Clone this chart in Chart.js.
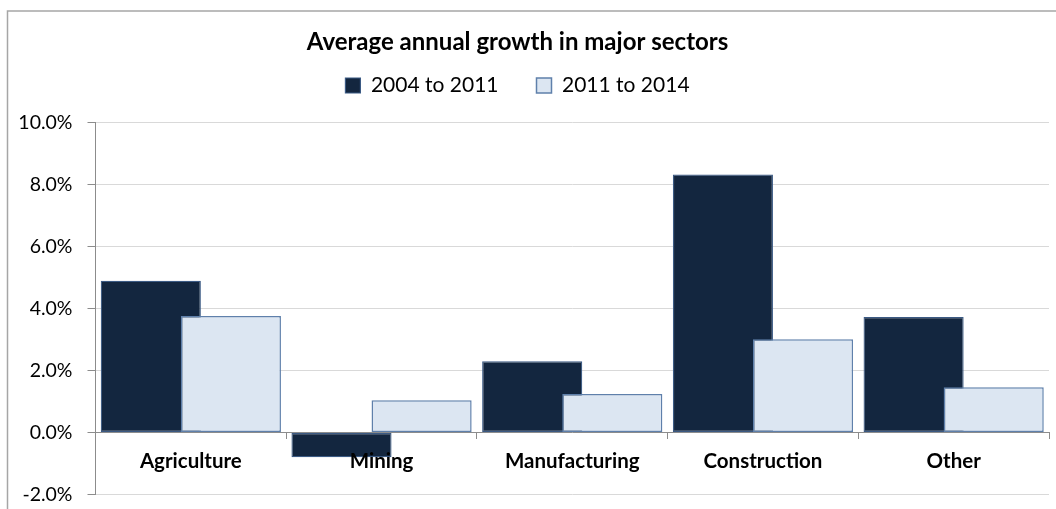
<!DOCTYPE html>
<html>
<head>
<meta charset="utf-8">
<script src="https://cdn.jsdelivr.net/npm/chart.js@4.4.1/dist/chart.umd.min.js"></script>
<style>
  html, body { margin: 0; padding: 0; background: #ffffff; overflow: hidden; }
  #wrap { position: absolute; left: -14px; top: 0; width: 1070px; height: 509px; }
</style>
</head>
<body>
<div id="wrap"><canvas id="c"></canvas></div>
<script>
const chartTitle = 'Average annual growth in major sectors';
const categories = ['Agriculture', 'Mining', 'Manufacturing', 'Construction', 'Other'];
const seriesNames = ['2004 to 2011', '2011 to 2014'];
const growth2004to2011 = [4.90, -0.80, 2.30, 8.33, 3.73];
const growth2011to2014 = [3.76, 1.04, 1.24, 3.01, 1.46];
const yMin = -2, yMax = 10, yStep = 2;

const FONT = 'Lato, "Open Sans", "DejaVu Sans", sans-serif';

const framePlugin = {
  id: 'frame',
  beforeDraw(chart) {
    const ctx = chart.ctx;
    ctx.save();
    ctx.fillStyle = '#ffffff';
    ctx.fillRect(0, 0, chart.width, chart.height);
    ctx.strokeStyle = '#a6a6a6';
    ctx.lineWidth = 1.5;
    ctx.strokeRect(21.5, 11, chart.width + 20, chart.height + 40);
    ctx.restore();
  }
};

const legendGapPlugin = {
  id: 'legendGap',
  beforeLayout(chart) {
    const lg = chart.legend;
    if (lg && !lg._gapPatched) {
      const orig = lg.fit;
      lg.fit = function () { orig.call(this); this.height += 16.7; };
      lg._gapPatched = true;
    }
  }
};

const drawOrderPlugin = {
  id: 'drawOrder',
  beforeDatasetsDraw(chart) {
    const metas = chart.getSortedVisibleDatasetMetas();
    for (const m of metas) { m.controller.draw(); }
    return false;
  }
};

new Chart(document.getElementById('c'), {
  type: 'bar',
  data: {
    labels: categories,
    datasets: [
      {
        label: seriesNames[0],
        data: growth2004to2011,
        backgroundColor: '#13263f',
        borderColor: '#3b5a84',
        borderWidth: 1.2,
        borderSkipped: false
      },
      {
        label: seriesNames[1],
        data: growth2011to2014,
        backgroundColor: '#dce6f2',
        borderColor: '#5f80ab',
        borderWidth: 1.5,
        borderSkipped: false
      }
    ]
  },
  options: {
    responsive: true,
    maintainAspectRatio: false,
    devicePixelRatio: 1,
    animation: false,
    categoryPercentage: 0.84,
    barPercentage: 1.25,
    layout: { padding: { left: 0, right: 7, top: 0, bottom: 14.5 } },
    plugins: {
      title: {
        display: true,
        text: chartTitle,
        color: '#000000',
        font: { family: FONT, size: 24, weight: 'bold', lineHeight: 1.2 },
        padding: { top: 27.5, bottom: -19.3 }
      },
      legend: {
        display: true,
        position: 'top',
        labels: {
          color: '#000000',
          font: { family: FONT, size: 21 },
          boxWidth: 15,
          boxHeight: 15,
          padding: 38
        }
      },
      tooltip: { enabled: false }
    },
    scales: {
      x: {
        type: 'category',
        position: { y: 0 },
        offset: true,
        grid: {
          display: true,
          drawOnChartArea: false,
          drawTicks: true,
          tickLength: 6,
          color: '#8c8c8c',
          offset: true
        },
        border: { display: true, color: '#8c8c8c', width: 1 },
        ticks: {
          color: '#000000',
          font: { family: FONT, size: 20.5, weight: 'bold', lineHeight: 1.2 },
          padding: 11,
          maxRotation: 0,
          autoSkip: false,
          z: 1
        }
      },
      y: {
        min: yMin,
        max: yMax,
        position: 'left',
        afterFit(scale) {
          scale.width = 109.5;
          scale.paddingBottom = 0;
          scale.paddingTop = 0;
        },
        grid: {
          color: '#d9d9d9',
          tickColor: '#8c8c8c',
          tickLength: 8,
          lineWidth: 1
        },
        border: { display: true, color: '#8c8c8c', width: 1 },
        ticks: {
          stepSize: yStep,
          color: '#000000',
          font: { family: FONT, size: 19.5 },
          padding: 15,
          callback: (v) => v.toFixed(1) + '%'
        }
      }
    }
  },
  plugins: [framePlugin, legendGapPlugin, drawOrderPlugin]
});
</script>
</body>
</html>
